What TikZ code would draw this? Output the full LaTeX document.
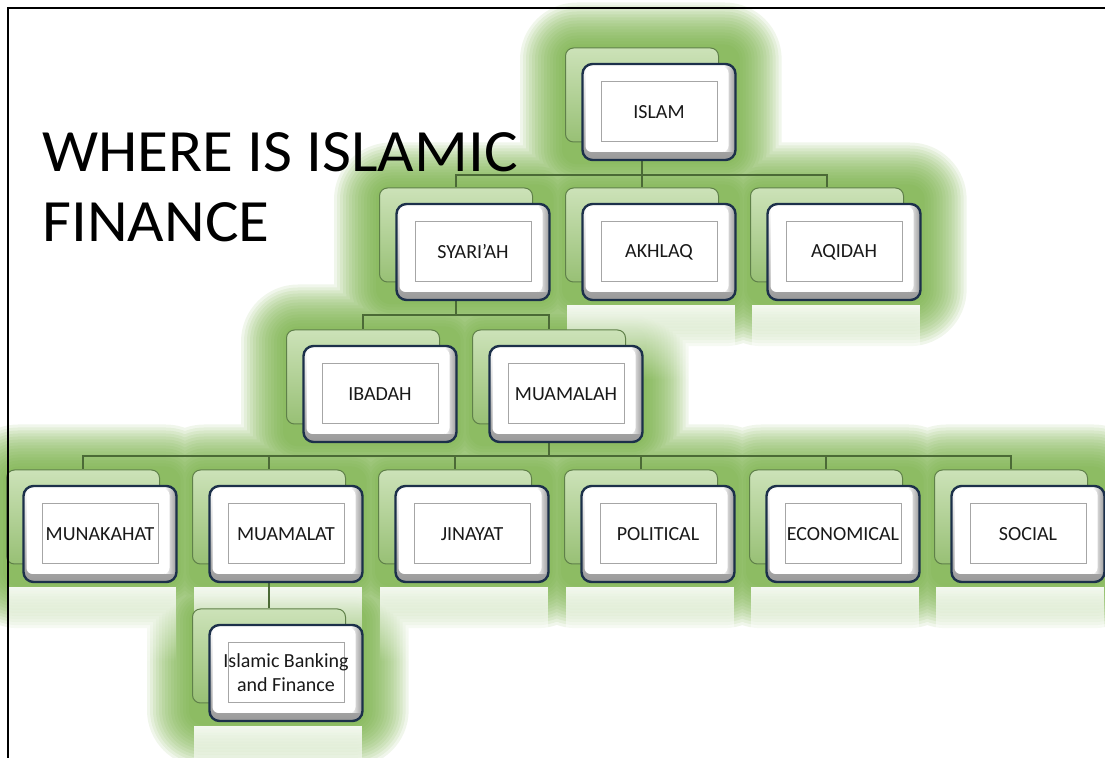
\documentclass[tikz,border=0pt]{standalone}
\usepackage{fontspec}
\setmainfont{Carlito}
\usetikzlibrary{fadings}
\definecolor{glowGreen}{HTML}{70AB3C}
\definecolor{backTop}{HTML}{CCE2B8}
\definecolor{backBottom}{HTML}{98C075}
\definecolor{backLine}{HTML}{5F8049}
\definecolor{frontLine}{HTML}{1C304A}
\definecolor{linkGreen}{HTML}{4B6A36}
\tikzfading[name=reflectFade, top color=transparent!0,
  middle color=transparent!15, bottom color=transparent!100]
\pgfdeclarelayer{glow}
\pgfdeclarelayer{reflect}
\pgfdeclarelayer{lines}
\pgfsetlayers{glow,reflect,lines,main}
\tikzset{
  backBox/.style={draw=backLine, line width=0.5pt, rounded corners=4pt,
    top color=backTop, bottom color=backBottom,
    minimum width=76.5pt, minimum height=47pt, inner sep=0pt},
  frontBox/.style={draw=frontLine, line width=1.2pt, rounded corners=5pt,
    fill=white, minimum width=76.5pt, minimum height=48pt, inner sep=0pt,
    align=center, text=black!90, font=\fontsize{10}{12}\selectfont,
    path picture={
      \shade[top color=white, bottom color=black!40, sharp corners]
        (path picture bounding box.north west) rectangle (path picture bounding box.south east);
      \shade[left color=white, right color=black!40, sharp corners]
        ([shift={(-12,0)}]path picture bounding box.north east) rectangle
        ([shift={(0,-8)}]path picture bounding box.south east);
      \fill[white, rounded corners=3pt]
        ([shift={(3,3)}]path picture bounding box.north west) rectangle
        ([shift={(-7,-8)}]path picture bounding box.south east);
      \draw[black!35, line width=0.4pt, sharp corners]
        ([shift={(19,17)}]path picture bounding box.north west) rectangle
        ([shift={(-18,-19)}]path picture bounding box.south east);
    }},
  link/.style={draw=linkGreen, line width=0.8pt},
}
\begin{document}
\begin{tikzpicture}[x=0.5pt, y=-0.5pt]
    \useasboundingbox (0,0) rectangle (1105,758);
    % level 1
    \node [backBox] (islamBack) at (642,95) {};
    \node [frontBox] (islam) at (659,112) {ISLAM};
    % level 2
    \node [backBox] (syariahBack) at (456,235) {};
    \node [frontBox] (syariah) at (473,252) {SYARI'AH};
    \node [backBox] (akhlaqBack) at (642,235) {};
    \node [frontBox] (akhlaq) at (659,252) {AKHLAQ};
    \node [backBox] (aqidahBack) at (827,235) {};
    \node [frontBox] (aqidah) at (844,252) {AQIDAH};
    % level 3
    \node [backBox] (ibadahBack) at (363,377) {};
    \node [frontBox] (ibadah) at (380,394) {IBADAH};
    \node [backBox] (muamalahBack) at (549,377) {};
    \node [frontBox] (muamalah) at (566,394) {MUAMALAH};
    % level 4
    \node [backBox] (munakahatBack) at (83,517) {};
    \node [frontBox] (munakahat) at (100,534) {MUNAKAHAT};
    \node [backBox] (muamalatBack) at (269,517) {};
    \node [frontBox] (muamalat) at (286,534) {MUAMALAT};
    \node [backBox] (jinayatBack) at (455,517) {};
    \node [frontBox] (jinayat) at (472,534) {JINAYAT};
    \node [backBox] (politicalBack) at (641,517) {};
    \node [frontBox] (political) at (658,534) {POLITICAL};
    \node [backBox] (economicalBack) at (826,517) {};
    \node [frontBox] (economical) at (843,534) {ECONOMICAL};
    \node [backBox] (socialBack) at (1011,517) {};
    \node [frontBox] (social) at (1028,534) {SOCIAL};
    % level 5
    \node [backBox] (ibfBack) at (269,656) {};
    \node [frontBox] (ibf) at (286,673) {Islamic Banking\\and Finance};
    % green glow
    \begin{pgfonlayer}{glow}
      \foreach \g [evaluate=\g as \r using \g/2+6] in {45,42,...,3}
        \fill [glowGreen, opacity=0.1, rounded corners=\r pt]
          \foreach \n in {islam,syariah,akhlaq,aqidah,ibadah,muamalah,munakahat,
                          muamalat,jinayat,political,economical,social,ibf}
            {([shift={(-\g,-\g)}]\n Back.north west) rectangle ([shift={(\g,\g)}]\n.south east)};
    \end{pgfonlayer}
    % reflections
    \begin{pgfonlayer}{reflect}
      \foreach \n in {akhlaq,aqidah,munakahat,muamalat,jinayat,political,economical,social,ibf}
        \fill [white, opacity=0.9, path fading=reflectFade]
          ([shift={(2,4)}]\n Back.west |- \n.south) rectangle ([shift={(-2,78)}]\n.south east);
    \end{pgfonlayer}
    % connectors
    \begin{pgfonlayer}{lines}
      \draw [link] (islamBack) -- ++(0,80) -| (syariahBack);
      \draw [link] (islamBack) -- ++(0,80) -| (akhlaqBack);
      \draw [link] (islamBack) -- ++(0,80) -| (aqidahBack);
      \draw [link] (syariahBack) -- ++(0,80) -| (ibadahBack);
      \draw [link] (syariahBack) -- ++(0,80) -| (muamalahBack);
      \draw [link] (muamalahBack) -- ++(0,79) -| (munakahatBack);
      \draw [link] (muamalahBack) -- ++(0,79) -| (muamalatBack);
      \draw [link] (muamalahBack) -- ++(0,79) -| (jinayatBack);
      \draw [link] (muamalahBack) -- ++(0,79) -| (politicalBack);
      \draw [link] (muamalahBack) -- ++(0,79) -| (economicalBack);
      \draw [link] (muamalahBack) -- ++(0,79) -| (socialBack);
      \draw [link] (muamalatBack) -- (ibfBack);
    \end{pgfonlayer}
    % title and frame
    \node [anchor=north west, inner sep=0pt, align=left,
           font=\fontsize{30}{35}\selectfont\addfontfeature{FakeStretch=1.05}]
      (title) at (42,132) {WHERE IS ISLAMIC\\FINANCE};
    \coordinate (frameTop) at (1105,8);
    \coordinate (frameBottom) at (8,758);
    \draw [line width=1pt] (frameTop) -| (frameBottom);
\end{tikzpicture}
\end{document}
